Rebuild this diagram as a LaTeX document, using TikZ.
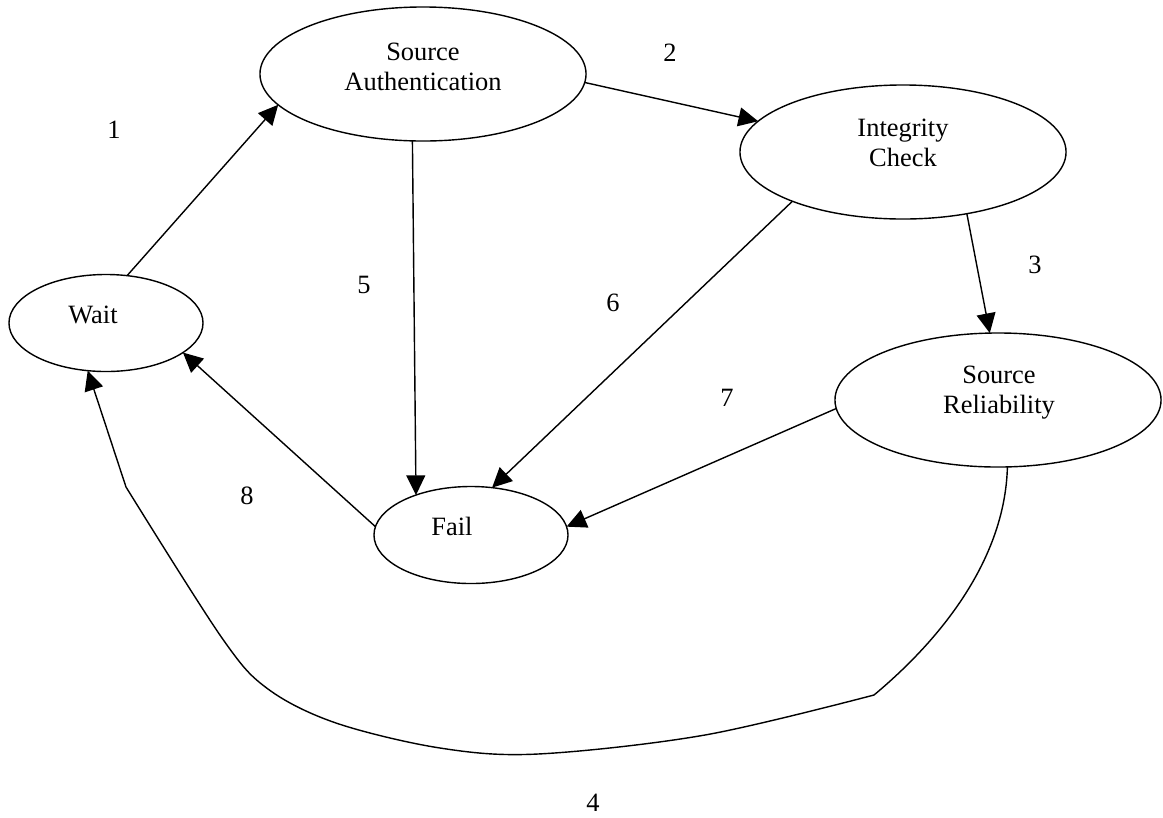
\documentclass[tikz,border=0pt]{standalone}
\usepackage{fontspec}
\setmainfont{Liberation Serif}
\usetikzlibrary{shapes.geometric,arrows.meta}
\begin{document}
\begin{tikzpicture}[x=0.025cm,y=-0.025cm,
  line width=1pt,
  font=\fontsize{18.8}{21.3}\selectfont,
  state/.style={draw, ellipse, inner sep=0pt, outer sep=0pt},
  bigstate/.style={state, minimum width=8.15cm, minimum height=3.35cm},
  smallstate/.style={state, minimum width=4.85cm, minimum height=2.425cm},
  edge/.style={-{Triangle[length=14pt,width=13.5pt]}},
  num/.style={inner sep=0pt}]
\useasboundingbox (0,0) rectangle (1163,817);

% states
\node[smallstate, label={[xshift=-0.325cm,yshift=0.2cm]center:Wait}] (W) at (106,323) {};
\node[bigstate, label={[align=center,yshift=0.175cm]center:{Source\\Authentication}}] (SA) at (423,74) {};
\node[bigstate, label={[align=center,yshift=0.225cm]center:{Integrity\\Check}}] (IC) at (903,152) {};
\node[bigstate, label={[align=center,xshift=0.025cm,yshift=0.19cm]center:{Source\\Reliability}}] (SR) at (998,400) {};
\node[smallstate, label={[xshift=-0.475cm,yshift=0.225cm]center:Fail}] (F) at (471,535) {};

% transitions
\draw[edge] (W.66.9) -- (SA.192.1);
\draw[edge] (SA.357) -- (IC.168.3);
\draw[edge] (IC.316.3) -- (SR.97.7);
\draw[edge] (SA.261.6) -- (F.144.2);
\draw[edge] (IC.204.1) -- (F.66.4);
\draw[edge] (SR.183.5) -- (F.5.3);
\draw[edge] (F.175.2) -- (W.339);

% long return path from Source Reliability back to Wait
\coordinate (k1) at (874,695);
\coordinate (k2) at (126,487);
\draw[edge] (SR.278.4) .. controls (1005,560) and (940,640) .. (k1)
  -- plot[smooth, tension=0.55] coordinates {(874,695) (705,735) (538,754) (440,748) (336,723) (268,689) (222,638) (126,487)}
  -- (W.249.2);

% transition numbers
\node[num] (n1) at (114,130) {1};
\node[num] (n2) at (670,53) {2};
\node[num] (n3) at (1035,265) {3};
\node[num] (n4) at (593,803) {4};
\node[num] (n5) at (364,285) {5};
\node[num] (n6) at (613,303) {6};
\node[num] (n7) at (727,398) {7};
\node[num] (n8) at (247,496) {8};
\end{tikzpicture}
\end{document}
